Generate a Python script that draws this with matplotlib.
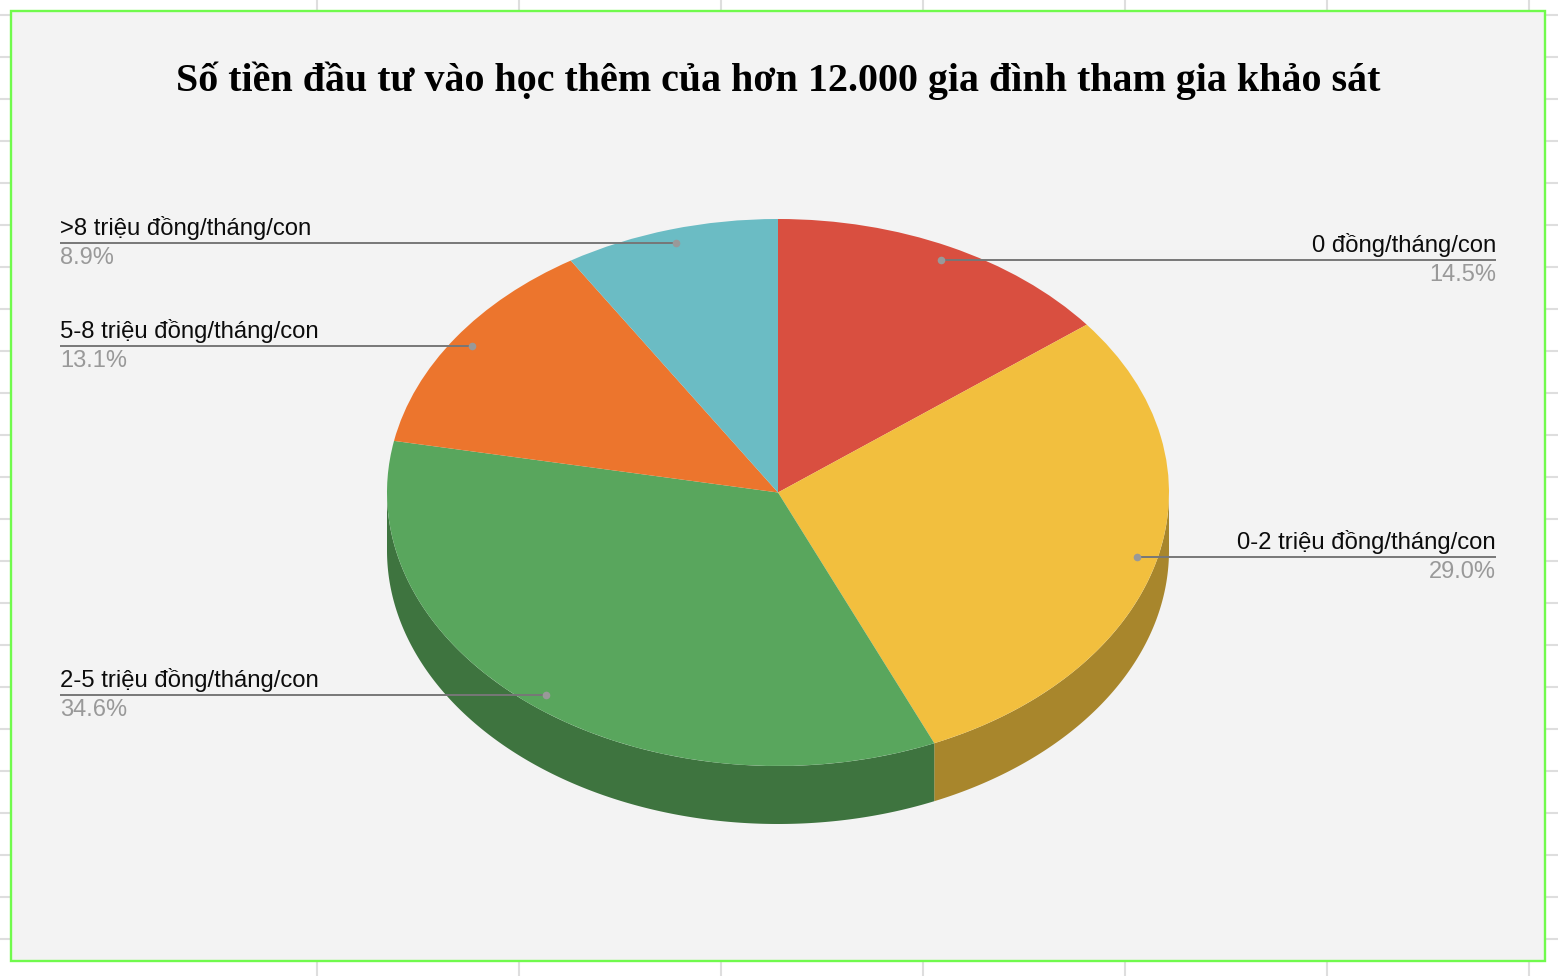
import numpy as np
import matplotlib
matplotlib.use("Agg")
import matplotlib.pyplot as plt

title = "Số tiền đầu tư vào học thêm của hơn 12.000 gia đình tham gia khảo sát"
categories = ["0 đồng/tháng/con", "0-2 triệu đồng/tháng/con", "2-5 triệu đồng/tháng/con",
              "5-8 triệu đồng/tháng/con", ">8 triệu đồng/tháng/con"]
values = [14.5, 29.0, 34.6, 13.1, 8.9]
colors = ["#d94f40", "#f2bf3e", "#59a65d", "#ec752d", "#6bbcc4"]
wall_colors = ["#8f3429", "#a8862c", "#3e743f", "#9c4d1d", "#477c81"]

W, H = 1558, 976
CX, CY, RX, RY, DEPTH = 778, 492.5, 391, 273.5, 58
LEFT_X, RIGHT_X = 60, 1496

fig = plt.figure(figsize=(W / 100, H / 100), dpi=100, facecolor="white")

# Page layer in pixel coordinates
bg = fig.add_axes([0, 0, 1, 1])
bg.set_xlim(0, W)
bg.set_ylim(H, 0)
bg.axis("off")
grid_c = "#dedede"
for x in [317, 519, 721, 923, 1125, 1327, 1529]:
    bg.plot([x, x], [0, H], color=grid_c, lw=1.5, solid_capstyle="butt", zorder=1)
for y in range(15, H, 42):
    bg.plot([0, W], [y, y], color=grid_c, lw=1.5, solid_capstyle="butt", zorder=1)
bg.add_patch(plt.Rectangle((11, 11), 1534, 950, facecolor="#f3f3f3",
                           edgecolor="#70fa4c", lw=1.7, zorder=2))
bg.text(778, 91, title, ha="center", va="baseline", fontsize=28.85, fontweight="bold",
        family="Liberation Serif", color="#000000", zorder=3)

# Pie layer: one data unit equals the radius on each axis
ax = fig.add_axes([0, 0, 1, 1], facecolor="none")
ax.pie(values, colors=colors, startangle=90, counterclock=False, radius=1,
       center=(0, 0), wedgeprops={"linewidth": 0}, frame=False)
ax.set_aspect("auto")
ax.set_xlim(-CX / RX, (W - CX) / RX)
ax.set_ylim((CY - H) / RY, CY / RY)
ax.axis("off")

fracs = np.array(values) / sum(values)
edges = np.concatenate([[0], np.cumsum(fracs)]) * 2 * np.pi
d = DEPTH / RY

# Side wall, only for the part of each slice on the front half
for i in range(len(values)):
    a = max(edges[i], np.pi / 2)
    b = min(edges[i + 1], 3 * np.pi / 2)
    if b <= a:
        continue
    t = np.linspace(a, b, 200)
    xs = np.r_[np.sin(t), np.sin(t[::-1])]
    ys = np.r_[np.cos(t), np.cos(t[::-1]) - d]
    ax.fill(xs, ys, color=wall_colors[i], lw=0, zorder=0)

# Leader lines and labels
mids = (edges[:-1] + edges[1:]) / 2
for name, val, m in zip(categories, values, mids):
    px, py = 0.948 * np.sin(m), 0.948 * np.cos(m)
    right = np.sin(m) > 0
    end = ((RIGHT_X if right else LEFT_X) - CX) / RX
    ha = "right" if right else "left"
    ax.plot([px, end], [py, py], color="#777777", lw=1.4, zorder=5, solid_capstyle="butt")
    ax.plot([px], [py], "o", color="#999999", ms=5.5, mew=0, zorder=6)
    ax.annotate(name, (end, py), xytext=(0, 2), textcoords="offset points", ha=ha, va="bottom",
                fontsize=17.2, family="Liberation Sans", color="#0c0c0c", zorder=7)
    ax.annotate(f"{val:.1f}%", (end, py), xytext=(0, -3), textcoords="offset points", ha=ha, va="top",
                fontsize=17, family="Liberation Sans", color="#999999", zorder=7)

fig.savefig("out.png", dpi=100, facecolor="white")
